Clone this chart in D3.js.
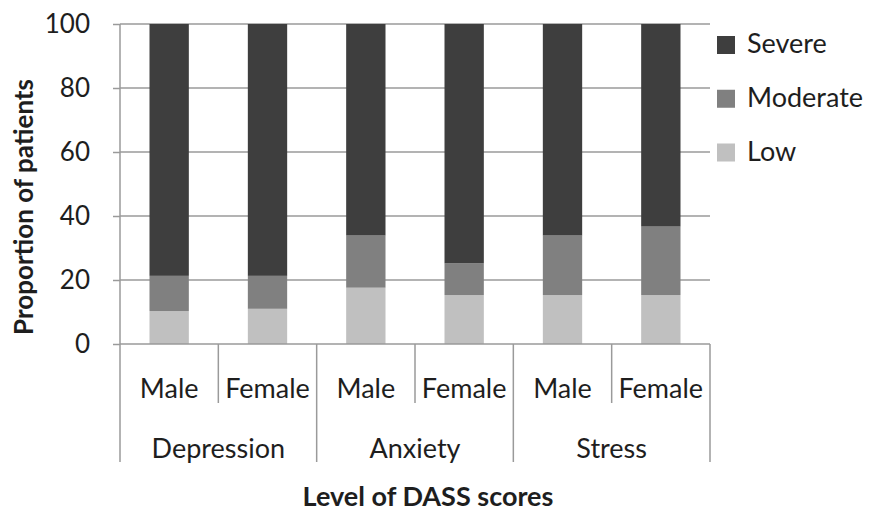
<!DOCTYPE html>
<html><head><meta charset="utf-8">
<script src="https://cdn.jsdelivr.net/npm/d3@7"></script>
<style>body{margin:0;background:#fff}svg{display:block;font-family:Lato,"Open Sans",sans-serif}</style>
</head><body><svg id="c" width="870" height="513"></svg>
<script>
const groups = ["Depression","Anxiety","Stress"];
const genders = ["Male","Female"];
const seriesNames = ["Low","Moderate","Severe"];
const low = [10.3, 11.0, 17.6, 15.3, 15.3, 15.3];
const moderate = [11.0, 10.3, 16.3, 9.9, 18.6, 21.4];
const severe = [78.7, 78.7, 66.1, 74.8, 66.1, 63.3];
const yTicks = [0,20,40,60,80,100];
const colors = {Low:"#c0c0c0", Moderate:"#808080", Severe:"#3e3e3e"};

const rows = [];
groups.forEach((g,gi)=>genders.forEach((s,si)=>{
  const i = gi*2+si;
  rows.push({key:g+"|"+s, group:g, gender:s, Low:low[i], Moderate:moderate[i], Severe:severe[i]});
}));

const svg = d3.select("#c");
const pL=120, pR=710, pT=24, pB=344;
const x = d3.scaleBand().domain(rows.map(r=>r.key)).range([pL,pR]).paddingInner(0.6).paddingOuter(0.3);
const y = d3.scaleLinear().domain([0,100]).range([pB,pT]);
const grid = "#9a9a9a", txt = "#1e1e1e";

// gridlines
svg.append("g").selectAll("line").data(yTicks.filter(d=>d>0)).join("line")
  .attr("x1",pL).attr("x2",pR).attr("y1",d=>y(d)).attr("y2",d=>y(d))
  .attr("stroke",grid).attr("stroke-width",1.5);

// bars
const stack = d3.stack().keys(seriesNames)(rows);
svg.append("g").selectAll("g").data(stack).join("g").attr("fill",d=>colors[d.key])
  .selectAll("rect").data(d=>d).join("rect")
  .attr("x",d=>x(d.data.key)).attr("width",x.bandwidth())
  .attr("y",d=>y(d[1])).attr("height",d=>y(d[0])-y(d[1]));

// y axis
const ya = svg.append("g").attr("transform",`translate(${pL},0)`)
  .call(d3.axisLeft(y).tickValues(yTicks).tickSize(7).tickPadding(23));
ya.select(".domain").attr("stroke",grid).attr("stroke-width",1.5).attr("d",`M0,${pT}V${pB}`);
ya.selectAll(".tick line").attr("stroke",grid).attr("stroke-width",1.5);
ya.selectAll(".tick text").attr("font-size",26).attr("fill",txt).attr("font-family","Lato,sans-serif");

// baseline
svg.append("line").attr("x1",pL).attr("x2",pR).attr("y1",pB).attr("y2",pB)
  .attr("stroke",grid).attr("stroke-width",1.5);

// category separators
const bounds = d3.range(7).map(i=>pL + i*(pR-pL)/6);
svg.append("g").selectAll("line").data(bounds).join("line")
  .attr("x1",d=>d).attr("x2",d=>d).attr("y1",pB)
  .attr("y2",(d,i)=> i%2===0 ? 462 : 403)
  .attr("stroke",grid).attr("stroke-width",1.5);

// gender labels
svg.append("g").selectAll("text").data(rows).join("text")
  .attr("x",d=>x(d.key)+x.bandwidth()/2).attr("y",398)
  .attr("text-anchor","middle").attr("font-size",27).attr("fill",txt)
  .text(d=>d.gender);

// group labels
svg.append("g").selectAll("text").data(groups).join("text")
  .attr("x",(d,i)=>(bounds[i*2]+bounds[i*2+2])/2).attr("y",458)
  .attr("text-anchor","middle").attr("font-size",27).attr("fill",txt)
  .text(d=>d);

// axis titles
svg.append("text").attr("x",428).attr("y",506).attr("text-anchor","middle")
  .attr("font-size",27).attr("font-weight","bold").attr("fill",txt).text("Level of DASS scores");
svg.append("text").attr("transform","translate(33,207) rotate(-90)").attr("text-anchor","middle")
  .attr("font-size",26).attr("font-weight","bold").attr("fill",txt).text("Proportion of patients");

// legend
const leg = svg.append("g").selectAll("g").data(["Severe","Moderate","Low"]).join("g")
  .attr("transform",(d,i)=>`translate(717,${45+i*53.75})`);
leg.append("rect").attr("x",0).attr("y",-9).attr("width",18).attr("height",18).attr("fill",d=>colors[d]);
leg.append("text").attr("x",30).attr("y",8).attr("font-size",27).attr("fill",txt).text(d=>d);
</script></body></html>
